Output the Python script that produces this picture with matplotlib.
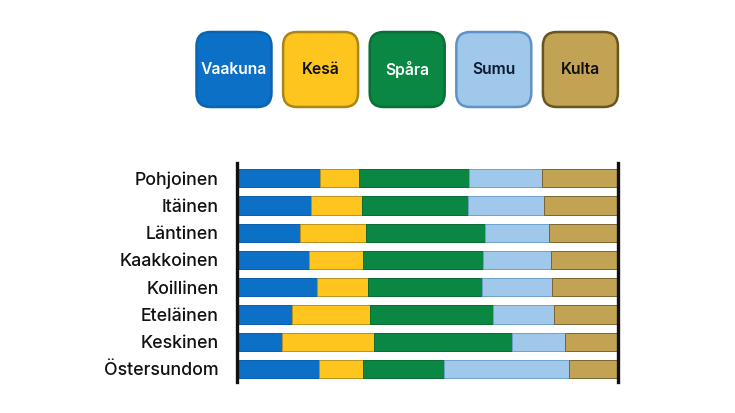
import matplotlib
matplotlib.use("Agg")
import matplotlib.pyplot as plt
from matplotlib.patches import FancyBboxPatch
import numpy as np

plt.rcParams['font.family'] = ['Inter', 'DejaVu Sans']

categories = ["Pohjoinen", "Itäinen", "Läntinen", "Kaakkoinen", "Koillinen",
              "Eteläinen", "Keskinen", "Östersundom"]
series = ["Vaakuna", "Kesä", "Spåra", "Sumu", "Kulta"]
vaakuna = [21.7, 19.5, 16.5, 18.9, 20.9, 14.5, 11.7, 21.6]
kesa    = [10.4, 13.3, 17.3, 14.1, 13.5, 20.3, 24.2, 11.4]
spara   = [28.9, 27.9, 31.4, 31.5, 30.0, 32.5, 36.4, 21.2]
sumu    = [19.0, 19.9, 16.6, 18.0, 18.3, 15.8, 13.9, 32.9]
kulta   = [20.0, 19.4, 18.2, 17.5, 17.3, 16.9, 13.8, 12.9]
values = [vaakuna, kesa, spara, sumu, kulta]

colors = ["#0b70c6", "#fec51f", "#0a8742", "#a0c8ea", "#c2a253"]
edges = ["#0a5ea8", "#b8921c", "#076b33", "#6e9fcc", "#7a6330"]
leg_edges = ["#0a64b4", "#a8861a", "#087035", "#5d93c6", "#6a5522"]
text_colors = ["white", "#111111", "white", "#0e1a30", "#111111"]

W, H = 735, 413
fig = plt.figure(figsize=(W / 100, H / 100), dpi=100)

# main bar axes (pixel-derived position)
ax = fig.add_axes([237 / W, 1 - 382 / H, 381 / W, 219 / H])
y = np.arange(len(categories))
left = np.zeros(len(categories))
for vals, c, e in zip(values, colors, edges):
    ax.barh(y, vals, left=left, height=0.67, color=c, edgecolor=e, linewidth=0.7)
    left += np.array(vals)

total = left.max()
ax.set_xlim(0, total)
ax.set_ylim(7.48, -0.56)
ax.set_yticks(y)
ax.set_yticklabels(categories, fontsize=12.8, fontweight='medium', color='#111111')
ax.tick_params(axis='y', length=0, pad=13)
ax.set_xticks([])
for s in ['top', 'bottom']:
    ax.spines[s].set_visible(False)
for s in ['left', 'right']:
    ax.spines[s].set_linewidth(2.4)
    ax.spines[s].set_color('#111111')
    ax.spines[s].set_zorder(5)

# legend as rounded boxes
lax = fig.add_axes([0, 0, 1, 1], zorder=-1)
lax.set_xlim(0, W)
lax.set_ylim(H, 0)
lax.axis('off')
box = 75
step = 86.6
x0, y0 = 196.5, 32
for i, name in enumerate(series):
    bx = x0 + i * step
    p = FancyBboxPatch((bx, y0), box, box,
                       boxstyle="round,pad=0,rounding_size=14",
                       facecolor=colors[i], edgecolor=leg_edges[i], linewidth=1.8)
    lax.add_patch(p)
    lax.text(bx + box / 2, y0 + box / 2, name, ha='center', va='center',
             fontsize=11.3, fontweight='semibold', color=text_colors[i])

fig.savefig("out.png", dpi=100)
